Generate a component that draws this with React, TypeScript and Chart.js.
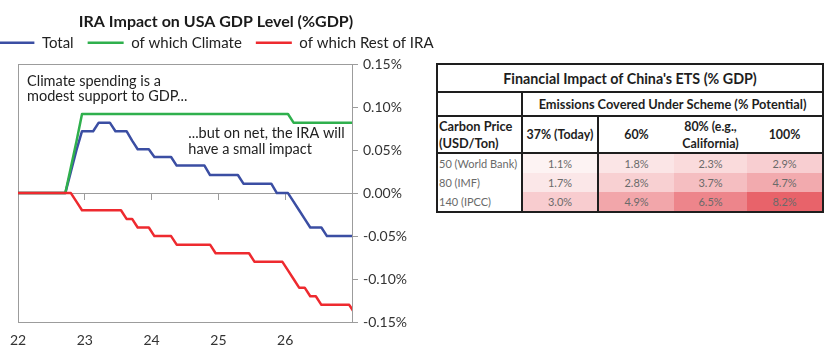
import React, { useEffect, useRef } from "react";
import { Chart, registerables } from "chart.js";

Chart.register(...registerables);

// ---------- Line chart data (monthly, first point = Dec 2021) ----------
const chartTitle = "IRA Impact on USA GDP Level (%GDP)";
const seriesNames = ["Total", "of which Climate", "of which Rest of IRA"];
const firstYear = 22; // axis starts at Jan 2022
const firstMonthOffset = -1; // first value is one month before the axis start

const totalImpact = [
  0, 0, 0, 0, 0, 0, 0, 0, 0, 0,
  0.025, 0.05,
  0.072, 0.072, 0.072,
  0.082, 0.082, 0.082,
  0.072, 0.072, 0.072,
  0.061,
  0.051, 0.051, 0.051,
  0.042, 0.042, 0.042, 0.042,
  0.032, 0.032, 0.032, 0.032, 0.032, 0.032,
  0.021, 0.021, 0.021, 0.021, 0.021, 0.021,
  0.011, 0.011, 0.011, 0.011, 0.011, 0.011,
  0, 0, 0,
  -0.01, -0.02, -0.03,
  -0.04, -0.04, -0.04,
  -0.05, -0.05, -0.05, -0.05, -0.05, -0.05,
];

const climateImpact = [
  0, 0, 0, 0, 0, 0, 0, 0, 0, 0,
  0.03, 0.06,
  0.092, 0.092, 0.092, 0.092, 0.092, 0.092, 0.092, 0.092, 0.092, 0.092,
  0.092, 0.092, 0.092, 0.092, 0.092, 0.092, 0.092, 0.092, 0.092, 0.092,
  0.092, 0.092, 0.092, 0.092, 0.092, 0.092, 0.092, 0.092, 0.092, 0.092,
  0.092, 0.092, 0.092, 0.092, 0.092, 0.092, 0.092, 0.092,
  0.082, 0.082, 0.082, 0.082, 0.082, 0.082, 0.082, 0.082, 0.082, 0.082,
  0.082, 0.082,
];

const restImpact = [
  0, 0, 0, 0, 0, 0, 0, 0, 0, 0, 0,
  -0.01,
  -0.02, -0.02, -0.02, -0.02, -0.02, -0.02, -0.02, -0.02,
  -0.03, -0.03,
  -0.04, -0.04, -0.04,
  -0.05, -0.05, -0.05, -0.05,
  -0.06, -0.06, -0.06, -0.06, -0.06, -0.06, -0.06,
  -0.07, -0.07, -0.07, -0.07, -0.07, -0.07, -0.07,
  -0.08, -0.08, -0.08, -0.08, -0.08, -0.08,
  -0.09, -0.1,
  -0.11, -0.11,
  -0.12, -0.12,
  -0.13, -0.13, -0.13, -0.13, -0.13, -0.13,
  -0.14,
];

const xTickValues = [22, 23, 24, 25, 26];
const xTickLabels = ["22", "23", "24", "25", "26"];
const xMin = 22;
const xMax = 27;
const yMin = -0.15;
const yMax = 0.15;
const yStep = 0.05;

const notes = [
  { lines: ["Climate spending is a", "modest support to GDP..."], x: 22.135, y: 0.1305 },
  { lines: ["...but on net, the IRA will", "have a small impact"], x: 24.55, y: 0.0695 },
];

// ---------- Table data ----------
const etsTitle = "Financial Impact of China's ETS (% GDP)";
const etsSubTitle = "Emissions Covered Under Scheme (% Potential)";
const etsRowHeader = ["Carbon Price", "(USD/Ton)"];
const etsCoverage = [["37% (Today)"], ["60%"], ["80% (e.g.,", "California)"], ["100%"]];
const etsPrices = ["50 (World Bank)", "80 (IMF)", "140 (IPCC)"];
const etsValues = [
  [1.1, 1.8, 2.3, 2.9],
  [1.7, 2.8, 3.7, 4.7],
  [3.0, 4.9, 6.5, 8.2],
];

const COLORS = { total: "#3b4ea3", climate: "#2fb04d", rest: "#ee2a2f" };
const AXIS = "#9c9c9c";
const FONT = "Lato, 'Open Sans', sans-serif";

const toPoints = (vals: number[]) =>
  vals.map((v, i) => ({ x: firstYear + (i + firstMonthOffset + 0.5) / 12, y: v }));

const heat = (v: number) => {
  const t = Math.max(0, Math.min(1, (v - 0.5) / 7.7));
  const mix = (a: number) => Math.round(255 + (a - 255) * t);
  return `rgb(${mix(232)},${mix(99)},${mix(106)})`;
};

const notesPlugin = {
  id: "notes",
  afterDatasetsDraw(chart: any) {
    const { ctx, scales } = chart;
    const xs = scales.x;
    const ys = scales.y;
    ctx.save();
    ctx.font = `14.5px ${FONT}`;
    ctx.fillStyle = "#222";
    ctx.textBaseline = "middle";
    ctx.textAlign = "left";
    notes.forEach((n) => {
      const px = xs.getPixelForValue(n.x);
      const py = ys.getPixelForValue(n.y);
      n.lines.forEach((line, i) => ctx.fillText(line, px, py + i * 15.5));
    });
    ctx.restore();
  },
};

function LineChart() {
  const ref = useRef<HTMLCanvasElement | null>(null);
  useEffect(() => {
    if (!ref.current) return;
    Chart.defaults.font.family = FONT;
    const ds = (label: string, data: number[], color: string, order: number) => ({
      label,
      data: toPoints(data),
      borderColor: color,
      backgroundColor: color,
      borderWidth: 2.5,
      pointRadius: 0,
      tension: 0,
      borderJoinStyle: "round" as const,
      xAxisID: "x",
      yAxisID: "y",
      order,
    });
    const chart = new Chart(ref.current, {
      type: "line",
      data: {
        datasets: [
          ds(seriesNames[0], totalImpact, COLORS.total, 2),
          ds(seriesNames[1], climateImpact, COLORS.climate, 1),
          ds(seriesNames[2], restImpact, COLORS.rest, 0),
        ],
      },
      options: {
        responsive: false,
        animation: false,
        layout: { padding: 0 },
        plugins: {
          tooltip: { enabled: false },
          title: {
            display: true,
            text: chartTitle,
            color: "#1a1a1a",
            font: { family: FONT, size: 16, weight: "bold" },
            padding: { top: 12, bottom: -10 },
          },
          legend: {
            display: true,
            labels: {
              usePointStyle: true,
              pointStyle: "line",
              pointStyleWidth: 36,
              padding: 14,
              color: "#222",
              font: { family: FONT, size: 15 },
              sort: (a: any, b: any) => a.datasetIndex - b.datasetIndex,
            },
          },
        },
        scales: {
          x: {
            type: "linear",
            axis: "x",
            position: "bottom",
            min: xMin,
            max: xMax,
            grid: { drawOnChartArea: false, drawTicks: false, color: AXIS },
            border: { display: true, color: AXIS, width: 1 },
            ticks: {
              stepSize: 1,
              padding: 10,
              color: "#333",
              font: { family: FONT, size: 14 },
              maxRotation: 0,
              autoSkip: false,
              callback: (v: any) => {
                const i = xTickValues.indexOf(Number(v));
                return i >= 0 ? xTickLabels[i] : "";
              },
            },
            afterFit: (s: any) => {
              s.height = 37;
            },
          },
          x0: {
            type: "linear",
            axis: "x",
            position: { y: 0 },
            min: xMin,
            max: xMax,
            grid: { drawOnChartArea: false, drawTicks: true, tickLength: 6, color: AXIS },
            border: { display: true, color: AXIS, width: 1 },
            ticks: { display: false, stepSize: 1 },
          },
          xt: {
            type: "linear",
            axis: "x",
            position: "top",
            min: xMin,
            max: xMax,
            grid: { drawOnChartArea: false, drawTicks: false, color: AXIS },
            border: { display: true, color: AXIS, width: 1 },
            ticks: { display: false },
            afterFit: (s: any) => {
              s.height = 4;
            },
          },
          yl: {
            type: "linear",
            axis: "y",
            position: "left",
            min: yMin,
            max: yMax,
            grid: { drawOnChartArea: false, drawTicks: false, color: AXIS },
            border: { display: true, color: AXIS, width: 1 },
            ticks: { display: false },
            afterFit: (s: any) => {
              s.width = 38;
            },
          },
          y: {
            type: "linear",
            axis: "y",
            position: "right",
            min: yMin,
            max: yMax,
            grid: { drawOnChartArea: false, drawTicks: true, tickLength: 6, color: AXIS },
            border: { display: true, color: AXIS, width: 1 },
            ticks: {
              stepSize: yStep,
              padding: 5,
              color: "#333",
              font: { family: FONT, size: 14 },
              callback: (v: any) => {
                const n = Math.abs(Number(v)) < 1e-9 ? 0 : Number(v);
                return n.toFixed(2) + "%";
              },
            },
            afterFit: (s: any) => {
              s.width = 100;
            },
          },
        },
      } as any,
      plugins: [notesPlugin],
    });
    return () => chart.destroy();
  }, []);
  return <canvas ref={ref} width={472} height={359} style={{ width: 472, height: 359, display: "block" }} />;
}

const B = "2px solid #1e1e1e";

function EtsTable() {
  const cellBase: React.CSSProperties = { padding: 0, verticalAlign: "middle" };
  return (
    <table
      style={{
        position: "absolute",
        left: 436,
        top: 63,
        width: 386,
        borderCollapse: "collapse",
        tableLayout: "fixed",
        fontFamily: FONT,
        background: "#fff",
        color: "#1e1e1e",
      }}
    >
      <colgroup>
        <col style={{ width: 85 }} />
        <col style={{ width: 76 }} />
        <col style={{ width: 76 }} />
        <col style={{ width: 73 }} />
        <col style={{ width: 76 }} />
      </colgroup>
      <tbody>
        <tr style={{ height: 28 }}>
          <td colSpan={5} style={{ ...cellBase, border: B, textAlign: "center", fontWeight: 700, fontSize: 14.3 }}>
            {etsTitle}
          </td>
        </tr>
        <tr style={{ height: 24 }}>
          <td style={{ ...cellBase, border: B }} />
          <td colSpan={4} style={{ ...cellBase, border: B, textAlign: "center", fontWeight: 700, fontSize: 12.8 }}>
            {etsSubTitle}
          </td>
        </tr>
        <tr style={{ height: 37 }}>
          <td
            style={{
              ...cellBase,
              border: B,
              textAlign: "left",
              fontWeight: 700,
              fontSize: 12.8,
              lineHeight: "17px",
              paddingLeft: 1,
            }}
          >
            {etsRowHeader[0]}
            <br />
            {etsRowHeader[1]}
          </td>
          {etsCoverage.map((c, ci) => (
            <td
              key={ci}
              style={{
                ...cellBase,
                borderTop: B,
                borderBottom: B,
                borderRight: ci === 0 || ci === 3 ? B : "none",
                textAlign: "center",
                fontWeight: 700,
                fontSize: 12.4,
                lineHeight: "17px",
              }}
            >
              {c.map((line, li) => (
                <React.Fragment key={li}>
                  {li > 0 && <br />}
                  {line}
                </React.Fragment>
              ))}
            </td>
          ))}
        </tr>
        {etsPrices.map((p, ri) => (
          <tr key={ri} style={{ height: 19.6 }}>
            <td
              style={{
                ...cellBase,
                borderLeft: B,
                borderRight: B,
                borderBottom: ri === etsPrices.length - 1 ? B : "none",
                textAlign: "left",
                fontSize: 11,
                color: "#6a6a6a",
                paddingLeft: 1,
              }}
            >
              {p}
            </td>
            {etsValues[ri].map((v, ci) => (
              <td
                key={ci}
                style={{
                  ...cellBase,
                  background: heat(v),
                  borderRight: ci === 0 || ci === 3 ? B : "none",
                  borderBottom: ri === etsPrices.length - 1 ? B : "none",
                  textAlign: "center",
                  fontSize: 11,
                  color: "#6a6a6a",
                }}
              >
                {v.toFixed(1)}%
              </td>
            ))}
          </tr>
        ))}
      </tbody>
    </table>
  );
}

export default function App() {
  return (
    <div
      style={{
        position: "fixed",
        left: 0,
        top: 0,
        width: 840,
        height: 359,
        background: "#fff",
        overflow: "hidden",
      }}
    >
      <div style={{ position: "absolute", left: -20, top: 0, width: 472, height: 359 }}>
        <LineChart />
      </div>
      <EtsTable />
    </div>
  );
}
